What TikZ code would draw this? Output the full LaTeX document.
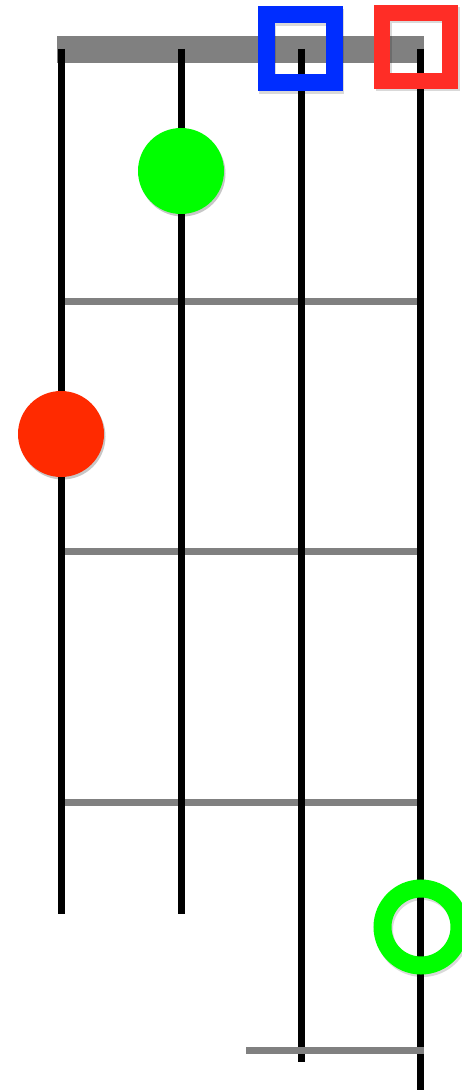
\documentclass[tikz,border=0pt]{standalone}
\usetikzlibrary{shadows}
\definecolor{fretgray}{RGB}{128,128,128}
\definecolor{sqblue}{RGB}{0,45,255}
\definecolor{sqred}{RGB}{255,45,38}
\definecolor{dotred}{RGB}{255,42,0}
\definecolor{dotgreen}{RGB}{0,255,0}
\tikzset{
  stringline/.style={line width=7pt, black},
  fretline/.style={line width=7pt, fretgray},
  shade/.style={drop shadow={shadow xshift=1.5pt, shadow yshift=-2.5pt, opacity=0.22, fill=black}},
  dotstyle/.style={circle, minimum size=86pt, inner sep=0pt, shade},
  sqstyle/.style={rectangle, minimum size=68pt, inner sep=0pt, line width=17pt},
  ghost/.style={draw=black, draw opacity=0.15},
}
\begin{document}
\begin{tikzpicture}[x=1pt,y=-1pt]
\useasboundingbox (0,0) rectangle (461,1091);
% nut
\fill[fretgray] (57,36) rectangle (424,63);
% frets
\draw[fretline] (61,301) -- (420,301);
\draw[fretline] (61,551) -- (420,551);
\draw[fretline] (61,802) -- (420,802);
% strings
\coordinate (s1t) at (61,49); \coordinate (s1b) at (61,914);
\coordinate (s2t) at (181,49); \coordinate (s2b) at (181,914);
\coordinate (s3t) at (301,49); \coordinate (s3b) at (301,1062);
\coordinate (s4t) at (420,49); \coordinate (s4b) at (420,1090);
\draw[stringline] (s1t) -- (s1b);
\draw[stringline] (s2t) -- (s2b);
\draw[stringline] (s3t) -- (s3b);
\draw[stringline] (s4t) -- (s4b);
% bottom fret
\draw[fretline] (246,1050) -- (424,1050);
% shadows of hollow marks
\node[sqstyle, ghost] at (301.5,51.5) {};
\node[sqstyle, ghost, line width=16pt] at (417.5,49.5) {};
\node[circle, minimum size=77pt, inner sep=0pt, line width=18pt, ghost] at (422.5,929.5) {};
% open-string squares
\node[sqstyle, draw=sqblue] (sqb) at (300,49) {};
\node[sqstyle, draw=sqred, line width=16pt] (sqr) at (416,47) {};
% dots
\node[dotstyle, fill=dotgreen] (dg) at (181,171) {};
\node[dotstyle, fill=dotred] (dr) at (61,434) {};
\node[circle, minimum size=77pt, inner sep=0pt, line width=18pt, draw=dotgreen] (ring) at (421,927) {};
\end{tikzpicture}
\end{document}
